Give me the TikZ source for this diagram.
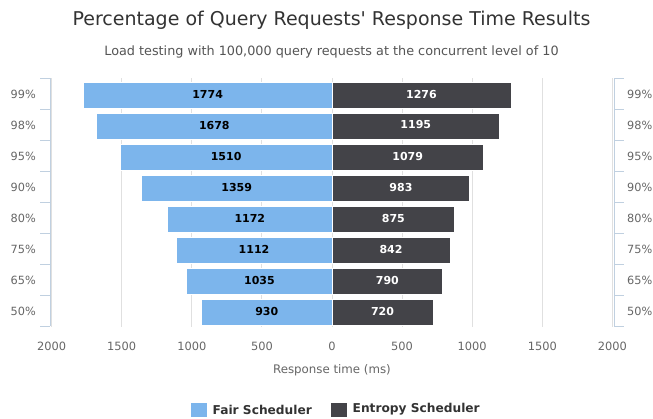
\documentclass[tikz,border=0pt]{standalone}
\usepackage{fontspec}
\setmainfont{DejaVu Sans}
\definecolor{fairblue}{HTML}{7CB5EC}
\definecolor{entdark}{HTML}{434348}
\definecolor{gridc}{HTML}{E0E0E0}
\definecolor{axisc}{HTML}{C0D0E0}
\definecolor{titlec}{HTML}{333333}
\definecolor{subc}{HTML}{555555}
\definecolor{labc}{HTML}{666666}
\tikzset{
  fairbar/.style={fill=fairblue, draw=white, line width=0.8pt},
  entbar/.style={fill=entdark, draw=white, line width=0.8pt},
  gridline/.style={draw=gridc, line width=0.8pt},
  axisline/.style={draw=axisc, line width=1pt},
  pctlabel/.style={text=labc, font=\fontsize{11.3}{12}\selectfont, inner sep=0pt},
  ticklabel/.style={text=labc, font=\fontsize{11.4}{12}\selectfont, inner sep=0pt},
  fairval/.style={text=black, font=\bfseries\fontsize{11}{12}\selectfont, inner sep=0pt},
  entval/.style={text=white, font=\bfseries\fontsize{11}{12}\selectfont, inner sep=0pt},
  legtext/.style={text=titlec, font=\bfseries\fontsize{12.2}{14}\selectfont, inner sep=0pt, anchor=west},
}
\begin{document}
\begin{tikzpicture}[x=1pt,y=-1pt]
\useasboundingbox[fill=white] (0,0) rectangle (653,419);
% title
\node[text=titlec, font=\fontsize{19}{22}\selectfont, inner sep=0pt] (title) at (331.5,20) {Percentage of Query Requests\textquotesingle{} Response Time Results};
\node[text=subc, font=\fontsize{12.8}{15}\selectfont, inner sep=0pt] (subtitle) at (331.5,52) {Load testing with 100,000 query requests at the concurrent level of 10};
% grid lines
\foreach \v in {-2000,-1500,...,2000} {
  \draw[gridline] ({332+\v*0.14025},78.5) -- ({332+\v*0.14025},327);
}
% axes
\draw[axisline] (50,78.5) -- (50,326.5);
\draw[axisline] (614,78.5) -- (614,326.5);
\foreach \i in {0,...,8} {
  \draw[axisline] (40,{78.5+31*\i}) -- (50,{78.5+31*\i});
  \draw[axisline] (614,{78.5+31*\i}) -- (624,{78.5+31*\i});
}
% bars
\foreach \p/\a/\b [count=\j from 0] in {99/1774/1276,98/1678/1195,95/1510/1079,90/1359/983,80/1172/875,75/1112/842,65/1035/790,50/930/720} {
  \pgfmathsetmacro{\yt}{82+31*\j}
  \pgfmathsetmacro{\yc}{94+31*\j}
  \pgfmathsetmacro{\xl}{332-\a*0.14025}
  \pgfmathsetmacro{\xr}{332+\b*0.14025}
  \draw[fairbar] (\xl,\yt) rectangle (332,\yt+26);
  \draw[entbar] (332,\yt) rectangle (\xr,\yt+26);
  \node[fairval] (fv\j) at ({(\xl+332)/2},\yc) {\a};
  \node[entval] (ev\j) at ({(\xr+332)/2},\yc) {\b};
  \node[pctlabel, anchor=east] (pl\j) at (36,{94+31*\j}) {\p\%};
  \node[pctlabel, anchor=east] (pr\j) at (652.5,{94+31*\j}) {\p\%};
}
% x tick labels
\foreach \v/\t in {-2000/2000,-1500/1500,-1000/1000,-500/500,0/0,500/500,1000/1000,1500/1500,2000/2000} {
  \node[ticklabel] at ({332+\v*0.14025},346) {\t};
}
\node[text=labc, font=\fontsize{11.8}{14}\selectfont, inner sep=0pt] (xlabel) at (332,370) {Response time (ms)};
% legend
\fill[fairblue] (191,402.5) rectangle (207,416.5);
\node[legtext] (leg1) at (212.5,409.5) {Fair Scheduler};
\fill[entdark] (331,402.5) rectangle (347,416.5);
\node[legtext] (leg2) at (352.5,409.5) {Entropy Scheduler};
\end{tikzpicture}
\end{document}
